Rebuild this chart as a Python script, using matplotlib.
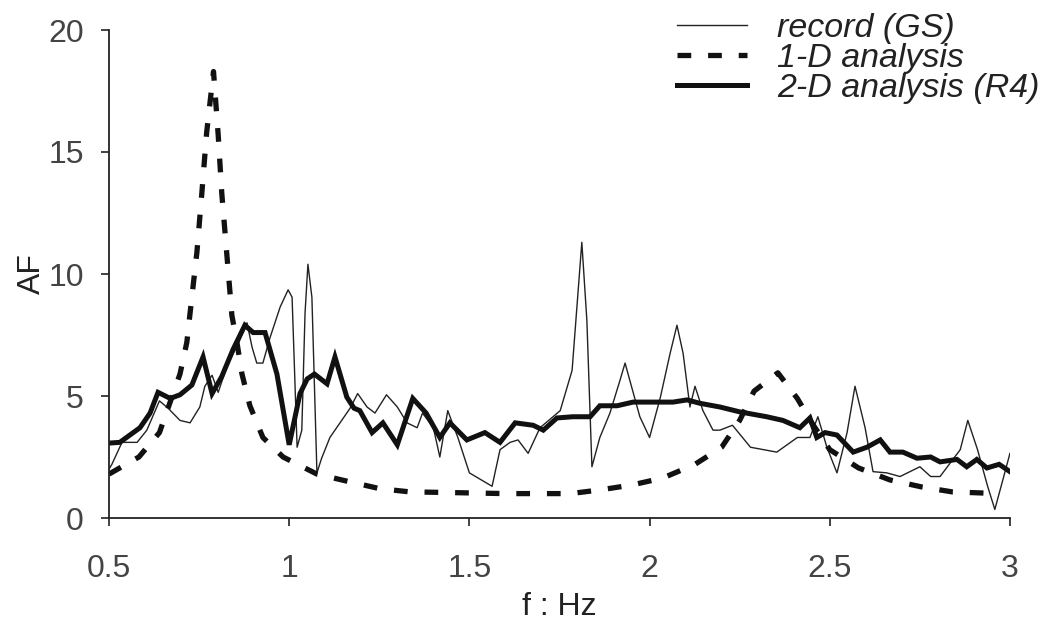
import matplotlib
matplotlib.use('Agg')
import matplotlib.pyplot as plt

plt.rcParams['font.family'] = ['Liberation Sans', 'DejaVu Sans']

# amplification factor vs frequency
record_f = [0.50, 0.508, 0.536, 0.578, 0.605, 0.64, 0.664, 0.697, 0.725, 0.752,
            0.766, 0.786, 0.803, 0.827, 0.863, 0.883, 0.897, 0.91, 0.927, 0.947,
            0.975, 0.997, 1.008, 1.022, 1.035, 1.044, 1.052, 1.063, 1.077, 1.09,
            1.113, 1.141, 1.169, 1.19, 1.216, 1.238, 1.27, 1.30, 1.327, 1.355,
            1.37, 1.40, 1.418, 1.44, 1.468, 1.50, 1.563, 1.585, 1.613, 1.635,
            1.663, 1.696, 1.752, 1.785, 1.812, 1.826, 1.84, 1.862, 1.89, 1.918,
            1.932, 1.945, 1.973, 2.0, 2.03, 2.057, 2.076, 2.093, 2.112, 2.126,
            2.148, 2.176, 2.195, 2.23, 2.28, 2.353, 2.41, 2.445, 2.467, 2.492,
            2.52, 2.548, 2.57, 2.598, 2.62, 2.658, 2.695, 2.75, 2.78, 2.806,
            2.862, 2.883, 2.91, 2.938, 2.958, 2.98, 3.0]
record_af = [2.0, 2.2, 3.1, 3.1, 3.6, 4.8, 4.5, 4.0, 3.9, 4.55,
             5.4, 5.85, 5.15, 6.2, 7.3, 8.0, 7.0, 6.35, 6.35, 7.4,
             8.65, 9.35, 9.05, 2.9, 3.6, 8.4, 10.4, 9.05, 1.85, 2.45,
             3.3, 3.9, 4.5, 5.1, 4.55, 4.3, 5.05, 4.55, 3.9, 3.7,
             4.3, 3.7, 2.5, 4.4, 3.3, 1.85, 1.3, 2.8, 3.1, 3.2,
             2.65, 3.7, 4.4, 6.05, 11.3, 8.1, 2.1, 3.3, 4.3, 5.65,
             6.35, 5.65, 4.15, 3.3, 4.95, 6.75, 7.9, 6.75, 4.55, 5.4,
             4.4, 3.6, 3.6, 3.8, 2.9, 2.7, 3.3, 3.3, 4.15, 2.9,
             1.85, 3.5, 5.4, 3.7, 1.9, 1.85, 1.7, 2.1, 1.7, 1.7,
             2.8, 4.0, 2.8, 1.3, 0.35, 1.55, 2.65]

oned_f = [0.50, 0.583, 0.64, 0.697, 0.716, 0.725, 0.744, 0.757, 0.771, 0.79,
          0.803, 0.813, 0.827, 0.841, 0.855, 0.869, 0.891, 0.927, 0.983, 1.077,
          1.163, 1.252, 1.335, 1.42, 1.6, 1.78, 1.862, 1.95, 2.037, 2.126,
          2.2, 2.25, 2.29, 2.356, 2.41, 2.45, 2.5, 2.58, 2.667, 2.756,
          2.84, 2.97]
oned_af = [1.8, 2.5, 3.5, 5.9, 7.2, 8.4, 10.9, 13.2, 15.8, 18.3,
           15.7, 13.3, 10.8, 8.3, 7.2, 5.9, 4.6, 3.3, 2.5, 1.8,
           1.5, 1.2, 1.07, 1.05, 1.0, 1.0, 1.15, 1.35, 1.64, 2.2,
           2.9, 4.0, 5.2, 5.95, 4.9, 3.9, 2.8, 2.05, 1.56, 1.27,
           1.07, 1.0]

twod_f = [0.50, 0.53, 0.586, 0.614, 0.636, 0.67, 0.697, 0.73, 0.761, 0.786,
          0.813, 0.844, 0.877, 0.90, 0.933, 0.966, 1.0, 1.03, 1.05, 1.07,
          1.105, 1.127, 1.16, 1.18, 1.196, 1.23, 1.26, 1.30, 1.343, 1.38,
          1.418, 1.446, 1.493, 1.543, 1.585, 1.627, 1.677, 1.705, 1.743, 1.787,
          1.835, 1.862, 1.91, 1.954, 2.01, 2.065, 2.104, 2.14, 2.195, 2.25,
          2.325, 2.37, 2.417, 2.445, 2.464, 2.487, 2.52, 2.565, 2.603, 2.64,
          2.667, 2.703, 2.742, 2.78, 2.806, 2.853, 2.88, 2.908, 2.936, 2.97,
          3.0]
twod_af = [3.07, 3.1, 3.7, 4.3, 5.15, 4.9, 5.05, 5.45, 6.6, 5.1,
           5.8, 6.9, 7.9, 7.6, 7.6, 5.9, 3.0, 5.1, 5.7, 5.9,
           5.5, 6.6, 4.95, 4.5, 4.4, 3.5, 3.9, 3.0, 4.9, 4.3,
           3.3, 3.9, 3.2, 3.5, 3.1, 3.9, 3.8, 3.6, 4.1, 4.15,
           4.15, 4.6, 4.6, 4.75, 4.75, 4.75, 4.84, 4.7, 4.55, 4.35,
           4.15, 4.0, 3.7, 4.1, 3.3, 3.5, 3.4, 2.7, 2.9, 3.2,
           2.7, 2.7, 2.45, 2.5, 2.3, 2.4, 2.1, 2.4, 2.05, 2.2,
           1.9]

labels = ['record (GS)', '1-D analysis', '2-D analysis (R4)']
xticks = [0.5, 1, 1.5, 2, 2.5, 3]
yticks = [0, 5, 10, 15, 20]

fig = plt.figure(figsize=(10.44, 6.25), dpi=100)
ax = fig.add_axes([0.1044, 0.1712, 0.863, 0.7808])

ax.plot(record_f, record_af, color='#222222', lw=1.0, label=labels[0])
ax.plot(oned_f, oned_af, color='#111111', lw=3.8, linestyle=(0, (2.6, 3.2)),
        solid_capstyle='butt', dash_capstyle='butt', label=labels[1])
ax.plot(twod_f, twod_af, color='#111111', lw=3.6, solid_joinstyle='miter',
        label=labels[2])

ax.set_xlim(0.5, 3)
ax.set_ylim(0, 20)
ax.set_xticks(xticks)
ax.set_xticklabels(['0.5', '1', '1.5', '2', '2.5', '3'])
ax.set_yticks(yticks)

for s in ['top', 'right']:
    ax.spines[s].set_visible(False)
for s in ['left', 'bottom']:
    ax.spines[s].set_color('#222222')
    ax.spines[s].set_linewidth(1.3)

ax.tick_params(axis='both', direction='out', length=6, width=1.2,
               colors='#222222', labelcolor='#444444', labelsize=23)
ax.tick_params(axis='x', pad=20)
ax.tick_params(axis='y', pad=12)

ax.set_xlabel('f : Hz', fontsize=23, color='#222222', labelpad=6)
ax.set_ylabel('AF', fontsize=23, color='#222222', labelpad=1)

leg = ax.legend(loc='upper right', bbox_to_anchor=(1.012, 1.007),
                bbox_transform=fig.transFigure, frameon=False, borderpad=0,
                prop={'style': 'italic', 'size': 24.5}, handlelength=2.05,
                handletextpad=0.88, labelspacing=-0.03)
for t in leg.get_texts():
    t.set_color('#222222')

fig.savefig('out.png', dpi=100)
